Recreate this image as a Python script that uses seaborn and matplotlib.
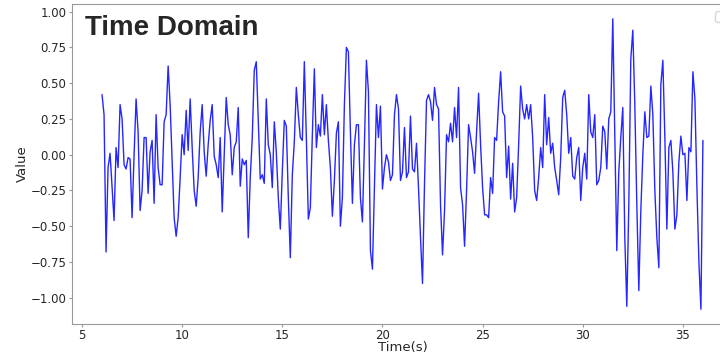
import numpy as np
import pandas as pd
import matplotlib
matplotlib.use("Agg")
import matplotlib.pyplot as plt
import seaborn as sns

# Signal values (0.1 s steps from t = 6.0 to 36.0)
seg1 = [0.42, 0.28, -0.68, -0.09, 0.01, -0.22, -0.46, 0.05, -0.09, 0.35, 0.25, -0.07, -0.10, -0.02,
        -0.03, -0.44, 0.0, 0.39, 0.16, -0.39, -0.25, 0.12, 0.12, -0.27, 0.02, 0.10, -0.34]
seg2 = [0.28, -0.09, -0.21, -0.21, 0.23, 0.28, 0.62, 0.35, -0.05, -0.44, -0.57, -0.44, -0.16, 0.14,
        0.0, 0.31, 0.03, 0.39, 0.05, -0.25, -0.36, -0.16, 0.16, 0.35, 0.02, -0.15, 0.07, 0.24]
seg3 = [0.35, -0.01, -0.07, -0.16, 0.12, -0.40, 0.0, 0.40, 0.21, 0.14, -0.14, 0.05, 0.09, 0.33,
        -0.22, -0.03, -0.07, -0.04, -0.58, -0.16, 0.12, 0.59, 0.65, 0.25, -0.17, -0.14, -0.20, 0.39]
seg4 = [0.07, 0.0, -0.23, 0.23, 0.02, -0.30, -0.52, -0.12, 0.24, 0.20, -0.30, -0.72, -0.14, 0.09,
        0.47, 0.28, 0.12, 0.10, 0.65, 0.12, -0.45, -0.37, 0.14, 0.60, 0.05, 0.21, 0.13, 0.42]
seg5 = [0.14, 0.35, 0.10, -0.09, -0.43, -0.18, 0.15, 0.23, -0.50, -0.30, 0.35, 0.75, 0.72, 0.16,
        -0.34, 0.07, 0.21, 0.21, -0.30, -0.47, 0.07, 0.66, 0.44, -0.67, -0.80, -0.21, 0.35, 0.12]
seg6 = [0.34, -0.24, -0.09, 0.0, -0.05, -0.18, -0.14, 0.28, 0.42, 0.32, -0.18, -0.12, 0.19, -0.16,
        -0.12, 0.27, -0.10, -0.12, 0.08, -0.23, -0.58, -0.90, -0.20, 0.38, 0.42, 0.37, 0.24, 0.47]
seg7 = [0.35, 0.32, -0.35, -0.70, -0.39, 0.14, 0.09, 0.22, 0.09, 0.33, 0.12, 0.47, -0.23, -0.35,
        -0.64, -0.25, 0.21, 0.12, 0.02, -0.13, 0.16, 0.43, 0.07, -0.23, -0.42, -0.42, -0.44, -0.16]
seg8 = [-0.27, 0.12, 0.10, 0.37, 0.58, 0.30, 0.27, -0.16, 0.06, -0.31, -0.06, -0.40, -0.30, 0.07,
        0.48, 0.32, 0.25, 0.35, 0.25, 0.35, 0.12, -0.25, -0.32, -0.16, 0.05, -0.09, 0.42, 0.07]
seg9 = [0.26, 0.01, 0.08, -0.09, -0.18, -0.28, -0.02, 0.40, 0.45, 0.28, 0.01, 0.12, -0.15, -0.17,
        -0.02, 0.05, -0.32, -0.09, 0.01, -0.17, 0.42, 0.16, 0.12, 0.28, -0.21, -0.18, -0.09, 0.20]
seg10 = [0.16, -0.10, 0.25, 0.30, 0.95, 0.15, -0.67, -0.12, 0.12, 0.33, -0.58, -1.06, -0.35, 0.67,
         0.87, 0.35, -0.35, -0.95, -0.39, 0.0, 0.30, 0.12, 0.13, 0.48, 0.28, -0.25, -0.58, -0.79]
seg11 = [0.49, 0.66, 0.12, -0.52, 0.05, 0.10, -0.12, -0.52, -0.42, -0.05, 0.13, 0.0, 0.01, -0.32,
         0.05, 0.02, 0.58, 0.39, -0.23, -0.75, -1.08, 0.10]

values = seg1 + seg2 + seg3 + seg4 + seg5 + seg6 + seg7 + seg8 + seg9 + seg10 + seg11
t_start, t_end = 6.0, 36.0
time = np.linspace(t_start, t_end, len(values))

df = pd.DataFrame({"Time(s)": time, "Value": values})

sns.set_style("ticks", {"axes.edgecolor": "0.6"})
plt.rcParams["font.family"] = ["DejaVu Sans"]

fig = plt.figure(figsize=(7.2, 3.55), dpi=100)
ax = fig.add_axes([0.1, 0.088, 0.918, 0.9])
sns.lineplot(data=df, x="Time(s)", y="Value", color="blue", alpha=0.85, linewidth=1.0, ax=ax)
ax.tick_params(labelsize=8.5, colors="0.15", length=2.5, color="0.6", pad=1.5)
ax.set_xlabel("Time(s)", fontsize=9.5, color="0.15", labelpad=-1)
ax.set_ylabel("Value", fontsize=9.5, color="0.15", labelpad=1)
ax.text(0.0197, 0.903, "Time Domain", transform=ax.transAxes, fontsize=20,
        fontweight="bold", family=["Liberation Sans", "DejaVu Sans"], color="0.15",
        va="baseline", ha="left")
leg = ax.legend(handles=[], loc="upper right")
fig.savefig("out.png", dpi=100)
